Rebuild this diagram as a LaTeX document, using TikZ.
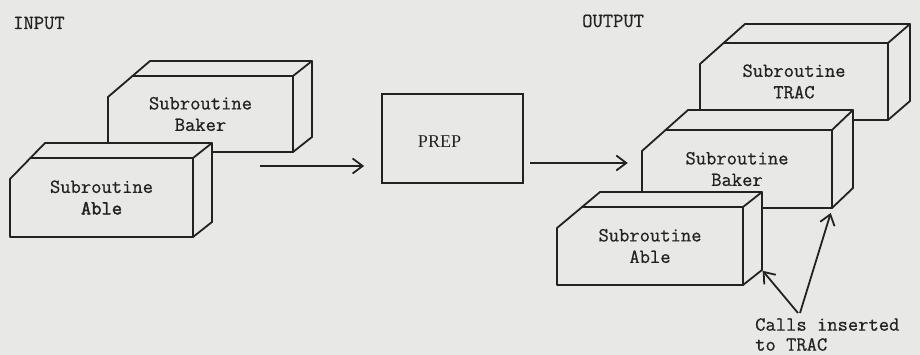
\documentclass[tikz,border=0pt]{standalone}
\usepackage{fontspec}
\usetikzlibrary{arrows.meta}
\newfontfamily\prepfont{Liberation Serif}
\newfontfamily\ttreg{Latin Modern Mono}[FakeBold=0.7]
\newfontfamily\ttbold{Latin Modern Mono}[FakeBold=2]
\definecolor{paper}{RGB}{232,232,230}
\definecolor{ink}{RGB}{34,34,34}
\tikzset{
  boxline/.style={draw=ink, line width=1.8pt, line join=round, line cap=round},
  boxfill/.style={boxline, fill=paper},
  face/.style={inner sep=0pt, align=center, text=ink,
    font=\ttreg\fontsize{20}{21.5}\selectfont},
  label/.style={inner sep=0pt, text=ink, font=\ttreg\fontsize{20}{24}\selectfont},
  conn/.style={draw=ink, line width=1.8pt,
    -{Straight Barb[length=10pt,width=15pt,line width=1.8pt]}},
}
% #1 name, #2 x0, #3 x1, #4 top, #5 bottom, #6 depth dx, #7 depth dy, #8 chamfer dx, #9 text
\newcommand\slab[9]{%
  \path[boxfill] ({#2},{#5}) -- ({#2},{#4+21}) -- ({#2+#8},{#4-#7})
     -- ({#3+#6},{#4-#7}) -- ({#3+#6},{#5-#7}) -- ({#3},{#5}) -- cycle;
  \draw[boxline] ({#2+#8*21/(21+#7)},{#4}) -- ({#3},{#4}) -- ({#3+#6},{#4-#7})
     ({#3},{#4}) -- ({#3},{#5});
  \node[face, minimum width={(#3-#2)*1pt}, minimum height={(#5-#4)*1pt}]
     (#1) at ({(#2+#3)/2},{(#4+#5)/2}) {#9};
  \coordinate (#1-bbr) at ({#3+#6},{#5-#7});
}
\begin{document}
\begin{tikzpicture}[x=1pt,y=-1pt]
\fill[paper] (0,0) rectangle (920,355);
\useasboundingbox (0,0) rectangle (920,355);

\node[label, anchor=base west] (inlbl) at (13,29) {INPUT};
\node[label, anchor=base west] (outlbl) at (582,27) {OUTPUT};

% input
\slab{inBaker}{108}{293}{76}{152}{19}{15}{42}{Subroutine\\Baker}
\slab{inAble}{10}{193}{158}{237}{19}{15}{35}{Subroutine\\{\ttbold Able}}

% PREP
\node[draw=ink, line width=1.8pt, minimum width=141pt, minimum height=89pt,
      inner sep=0pt] (prep) at (452.5,138.5) {};
\node[inner sep=0pt, text=ink, font=\prepfont\fontsize{18}{20}\selectfont]
  (preptext) at (439.5,142) {PREP};

% output
\slab{outTrac}{700}{888}{43}{120}{22}{19}{45}{Subroutine\\TRAC}
\slab{outBaker}{642}{832}{130}{208}{21}{20}{46}{Subroutine\\Baker}
\slab{outAble}{557}{743}{207}{285}{19}{15}{43}{Subroutine\\Able}

% main arrows
\coordinate (a1s) at (260,166);
\draw[conn, shorten >=17pt] (a1s) -- (prep.west |- a1s);
\coordinate (a2s) at (530,163);
\draw[conn, shorten >=14pt] (a2s) -- (outBaker.west |- a2s);

% callout
\node[label, anchor=north west, align=left,
      font=\ttreg\fontsize{20}{20}\selectfont] (calls) at (755,318)
  {Calls inserted\\to TRAC};
\coordinate (c1) at (798,313);
\coordinate (c2) at (800,313);
\draw[conn, shorten >=1pt] (c1) -- (outAble-bbr);
\draw[conn, shorten >=5pt] (c2) -- (outBaker.south east);
\end{tikzpicture}
\end{document}
